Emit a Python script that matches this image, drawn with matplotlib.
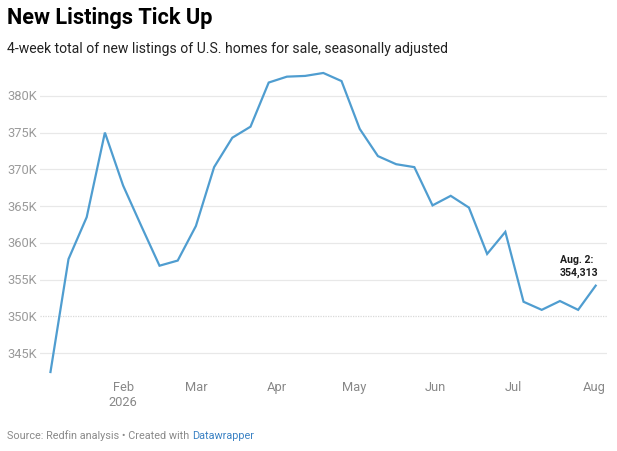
import matplotlib
matplotlib.use("Agg")
import matplotlib.pyplot as plt
import matplotlib.transforms as mtransforms
import pandas as pd

plt.rcParams['font.family'] = ['Roboto', 'DejaVu Sans']

# Data
week_ending = pd.date_range("2026-01-04", "2026-08-02", freq="7D")
new_listings = [342.3, 357.8, 363.5, 375.0, 367.8, 362.3, 356.9, 357.6, 362.3, 370.3,
                374.3, 375.8, 381.8, 382.6, 382.7, 383.1, 382.0, 375.5, 371.8, 370.7,
                370.3, 365.1, 366.4, 364.8, 358.5, 361.5, 352.0, 350.9, 352.1, 350.9,
                354.313]
y_ticks = [345, 350, 355, 360, 365, 370, 375, 380]
month_ticks = pd.date_range("2026-02-01", "2026-08-01", freq="MS")
month_labels = ["Feb\n2026", "Mar", "Apr", "May", "Jun", "Jul", "Aug"]

W, H = 617, 452
fig = plt.figure(figsize=(W / 100, H / 100), dpi=100)
fig.patch.set_facecolor("white")

# axes placed in pixel coordinates
ax_left, ax_right, ax_top, ax_bottom = 40, 607, 60, 380
ax = fig.add_axes([ax_left / W, (H - ax_bottom) / H, (ax_right - ax_left) / W, (ax_bottom - ax_top) / H])
ax.set_facecolor("white")

x0 = week_ending[0] - pd.Timedelta(days=3.96)
x1 = week_ending[-1] + pd.Timedelta(days=4.1)
ax.set_xlim(x0, x1)
ax.set_ylim(341.5, 385.0)

for v in y_ticks:
    if v == 350:
        ax.axhline(v, color="#d9d9d9", lw=0.9, ls=(0, (1, 1)), zorder=1)
    else:
        ax.axhline(v, color="#e8e8e8", lw=0.9, zorder=1)

ax.plot(week_ending, new_listings, color="#4f9dd0", lw=1.6, zorder=3,
        solid_joinstyle="miter", solid_capstyle="butt")

for s in ax.spines.values():
    s.set_visible(False)
ax.set_yticks([])
ax.set_xticks(month_ticks)
ax.set_xticklabels(month_labels, fontsize=9.3, color="#888888", linespacing=1.15, va="top")
ax.tick_params(axis="x", length=0, pad=0.8)

# y tick labels, left aligned at x=7px
ytrans = mtransforms.blended_transform_factory(fig.transFigure, ax.transData)
for v in y_ticks:
    ax.text(7 / W, v, f"{v}K", transform=ytrans,
            ha="left", va="center", fontsize=9.3, color="#9a9a9a")

# annotation
ax.annotate("Aug. 2:\n354,313", xy=(week_ending[-1], new_listings[-1]),
            xytext=(560 / W, (H - 255) / H), textcoords="figure fraction",
            ha="left", va="top", fontsize=7.6, fontweight="bold", color="#1d1d1d",
            linespacing=1.3)

# titles
fig.text(7 / W, 1 - 7 / H, "New Listings Tick Up", ha="left", va="top",
         fontsize=15.7, fontweight="bold", color="#000000")
fig.text(7 / W, 1 - 42 / H, "4-week total of new listings of U.S. homes for sale, seasonally adjusted",
         ha="left", va="top", fontsize=10.1, color="#222222")

# footer
t = fig.text(7 / W, 1 - 436 / H, "Source: Redfin analysis \u2022 Created with ", ha="left", va="center",
             fontsize=7.8, color="#8a8a8a")
fig.canvas.draw()
bb = t.get_window_extent()
fig.text(bb.x1 / W, 1 - 436 / H, "Datawrapper", ha="left", va="center",
         fontsize=7.8, color="#3b82c4")

fig.savefig("out.png", dpi=100, facecolor="white")
